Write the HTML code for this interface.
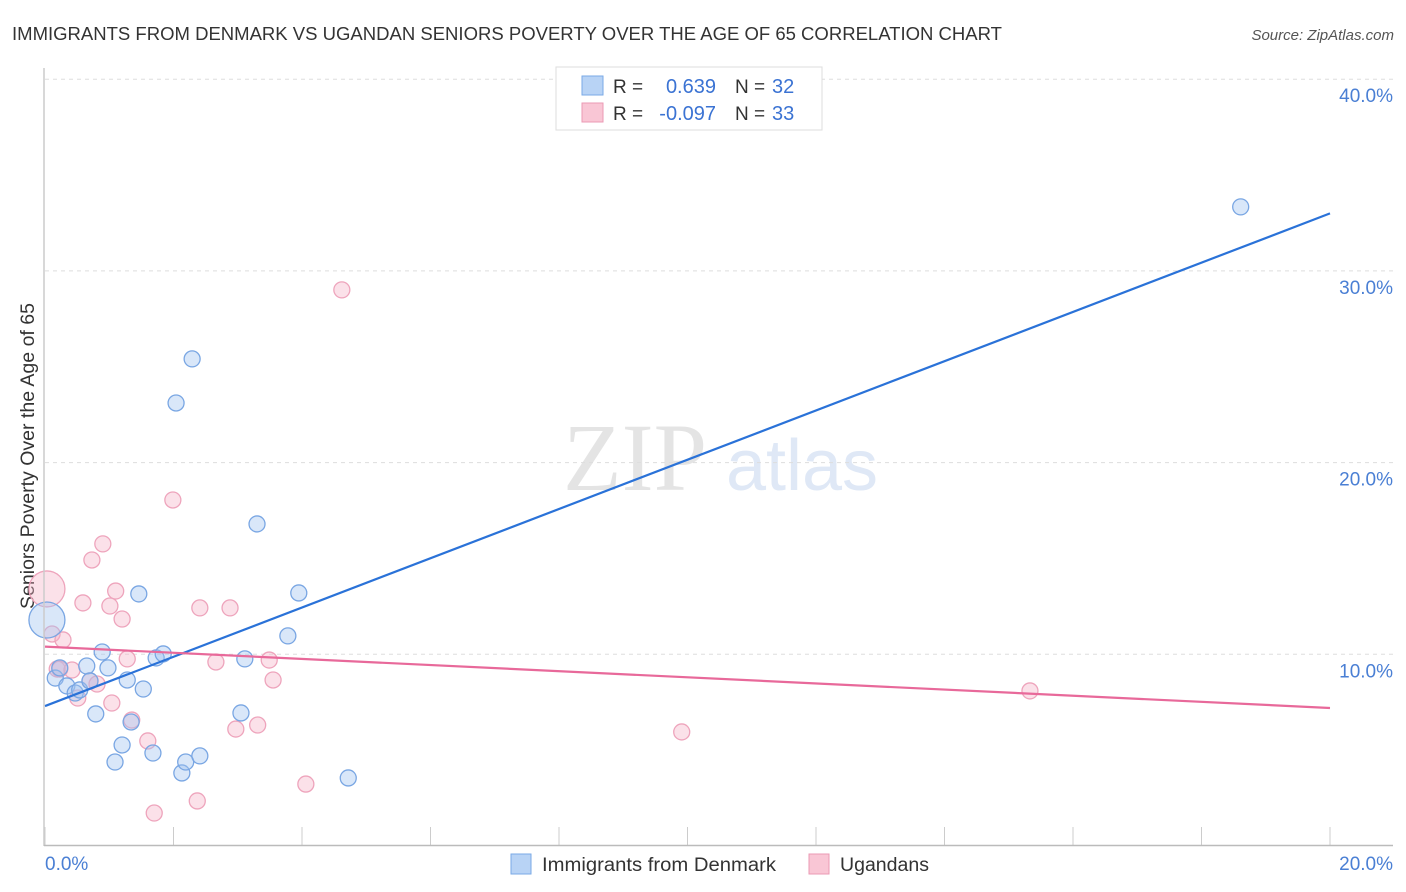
<!DOCTYPE html>
<html><head><meta charset="utf-8"><style>
html,body{margin:0;padding:0;background:#fff;width:1406px;height:892px;overflow:hidden}
svg{display:block;font-family:"Liberation Sans",sans-serif}
</style></head><body>
<svg id="chart" width="1406" height="892">
<text x="12" y="40" font-size="18" fill="#333" textLength="990" lengthAdjust="spacingAndGlyphs">IMMIGRANTS FROM DENMARK VS UGANDAN SENIORS POVERTY OVER THE AGE OF 65 CORRELATION CHART</text>
<text x="1394" y="40" font-size="15" fill="#555" font-style="italic" text-anchor="end">Source: ZipAtlas.com</text>
<text x="635" y="490" font-size="96" fill="#e4e4e4" font-family="Liberation Serif,serif" text-anchor="middle">ZIP</text>
<text x="802" y="490" font-size="72" fill="#dfe8f6" text-anchor="middle">atlas</text>
<text transform="translate(34,456) rotate(-90)" font-size="19" fill="#333" text-anchor="middle" textLength="306" lengthAdjust="spacingAndGlyphs">Seniors Poverty Over the Age of 65</text>
<g id="grid"></g><g id="pts"></g><g id="lines"></g>
<line x1="44" y1="68" x2="44" y2="846" stroke="#ccc" stroke-width="1.5"/>
<line x1="44" y1="845.5" x2="1393" y2="845.5" stroke="#bbb" stroke-width="1.5"/>
<text x="45" y="870" font-size="19" fill="#4a7fd4">0.0%</text>
<text x="1393" y="870" font-size="19" fill="#4a7fd4" text-anchor="end">20.0%</text>
<g>
<rect x="556" y="67" width="266" height="63" fill="#fff" stroke="#ddd"/>
<rect x="582" y="76" width="21" height="19" fill="#b8d3f5" stroke="#7aa9e6"/>
<rect x="582" y="103" width="21" height="19" fill="#f9c6d5" stroke="#eb9ab4"/>
<text x="613" y="93" font-size="19" fill="#333">R =</text>
<text x="716" y="93" font-size="20" fill="#3b73d3" text-anchor="end">0.639</text>
<text x="735" y="93" font-size="19" fill="#333">N =</text>
<text x="772" y="93" font-size="20" fill="#3b73d3">32</text>
<text x="613" y="120" font-size="19" fill="#333">R =</text>
<text x="716" y="120" font-size="20" fill="#3b73d3" text-anchor="end">-0.097</text>
<text x="735" y="120" font-size="19" fill="#333">N =</text>
<text x="772" y="120" font-size="20" fill="#3b73d3">33</text>
</g>
<g>
<rect x="511" y="854" width="20" height="20" fill="#b8d3f5" stroke="#7aa9e6"/>
<text x="542" y="871" font-size="19" fill="#333" textLength="234" lengthAdjust="spacingAndGlyphs">Immigrants from Denmark</text></g>
<g>
<rect x="809" y="854" width="20" height="20" fill="#f9c6d5" stroke="#eb9ab4"/>
<text x="840" y="871" font-size="19" fill="#333" textLength="89" lengthAdjust="spacingAndGlyphs">Ugandans</text></g>
</svg>
<script>
const yTicks=[10,20,30,40];
const xTicks=[0,2,4,6,8,10,12,14,16,18,20];
const blueX=[0.03,0.16,0.23,0.34,0.47,0.54,0.65,0.70,0.79,0.89,0.98,1.09,1.20,1.28,1.34,1.46,1.53,1.68,1.73,1.84,2.04,2.13,2.19,2.29,2.41,3.05,3.11,3.30,3.78,3.95,4.72,18.61];
const blueY=[11.79,8.76,9.29,8.35,7.98,8.14,9.39,8.61,6.89,10.12,9.29,4.38,5.27,8.66,6.47,13.15,8.19,4.85,9.81,10.02,23.11,3.81,4.38,25.41,4.70,6.94,9.76,16.80,10.96,13.20,3.55,33.34];
const pinkX=[0.03,0.11,0.19,0.23,0.28,0.42,0.51,0.59,0.70,0.73,0.81,0.90,1.01,1.04,1.10,1.20,1.28,1.35,1.60,1.70,1.99,2.37,2.41,2.66,2.88,2.97,3.31,3.49,3.55,4.06,4.62,9.91,15.33];
const pinkY=[13.41,11.06,9.23,9.23,10.75,9.18,7.72,12.68,8.61,14.92,8.45,15.76,12.52,7.46,13.30,11.84,9.76,6.57,5.48,1.72,18.05,2.35,12.42,9.60,12.42,6.10,6.31,9.70,8.66,3.23,29.01,5.95,8.09];
const blueLine=[7.3,33.0];
const pinkLine=[10.4,7.2];
const X=v=>45+v/20*1285, Y=v=>846-v*19.17;
const NS="http://www.w3.org/2000/svg";
function mk(t,a,p){const e=document.createElementNS(NS,t);for(const k in a)e.setAttribute(k,a[k]);p.appendChild(e);return e;}
const grid=document.getElementById('grid');
yTicks.forEach(v=>{
 const l=mk('line',{x1:45,x2:1393,y1:Y(v),y2:Y(v),stroke:'#ddd','stroke-dasharray':'4,4'},grid);
 
 
 const t=mk('text',{x:1393,y:Y(v)+23,'font-size':19,fill:'#4a7fd4','text-anchor':'end'},grid);
 t.textContent=v.toFixed(1)+'%';
 
 
});
xTicks.forEach(v=>{
 const l=mk('line',{x1:X(v),x2:X(v),y1:827,y2:846,stroke:'#ccc'},grid);
 
 
});
const pts=document.getElementById('pts');
pinkX.forEach((v,i)=>{
 const c=mk('circle',{cx:X(v),cy:Y(pinkY[i]),r:i==0?18:8,fill:'rgba(246,180,200,0.4)',stroke:'#eea4bc','stroke-width':1.3},pts);
 
 
});
blueX.forEach((v,i)=>{
 const c=mk('circle',{cx:X(v),cy:Y(blueY[i]),r:i==0?18:8,fill:'rgba(160,196,240,0.4)',stroke:'#79a6e3','stroke-width':1.3},pts);
 
 
});
const lines=document.getElementById('lines');
const bl=mk('line',{x1:X(0),y1:Y(blueLine[0]),x2:X(20),y2:Y(blueLine[1]),stroke:'#2a72d8','stroke-width':2.2},lines);


const pl=mk('line',{x1:X(0),y1:Y(pinkLine[0]),x2:X(20),y2:Y(pinkLine[1]),stroke:'#e8699a','stroke-width':2.2},lines);


</script>
</body></html>
